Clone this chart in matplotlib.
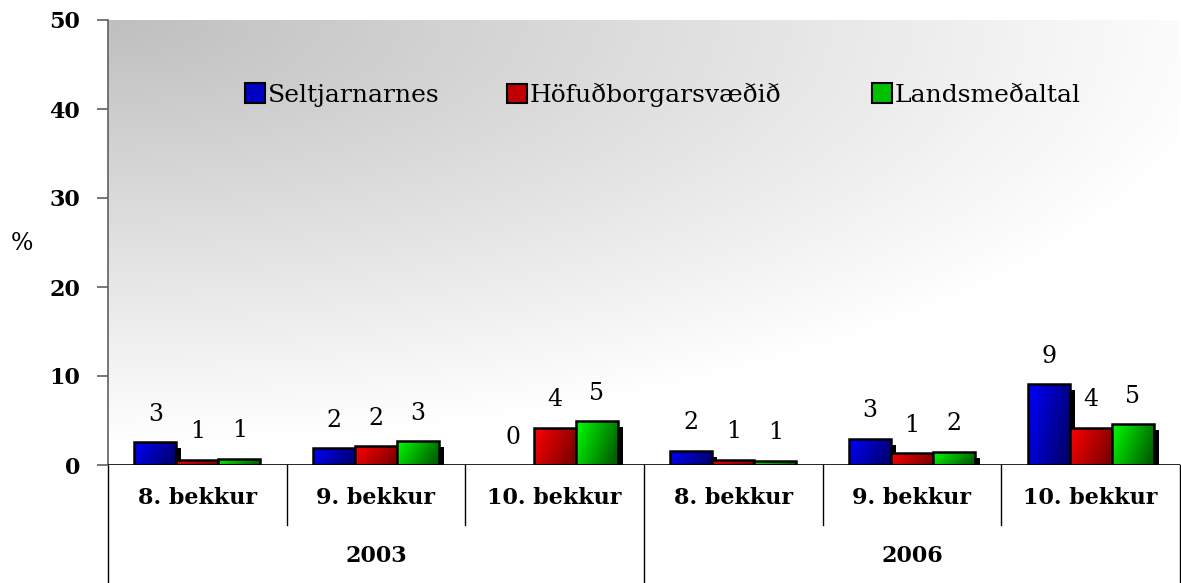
import numpy as np
import matplotlib
matplotlib.use("Agg")
import matplotlib.pyplot as plt
from matplotlib.patches import Patch
from matplotlib import patheffects as pe
from matplotlib.colors import LinearSegmentedColormap
import matplotlib.transforms as mtransforms

# ---- data ----
grades = ["8. bekkur", "9. bekkur", "10. bekkur", "8. bekkur", "9. bekkur", "10. bekkur"]
years = ["2003", "2006"]
series_names = ["Seltjarnarnes", "Höfuðborgarsvæðið", "Landsmeðaltal"]
seltjarnarnes = [2.6, 1.9, 0.0, 1.6, 2.95, 9.1]
hofudborg = [0.6, 2.1, 4.2, 0.6, 1.35, 4.2]
landsmedaltal = [0.7, 2.7, 4.9, 0.5, 1.5, 4.6]
labels_selt = ["3", "2", "0", "2", "3", "9"]
labels_hof = ["1", "2", "4", "1", "1", "4"]
labels_land = ["1", "3", "5", "1", "2", "5"]

series = [seltjarnarnes, hofudborg, landsmedaltal]
series_labels = [labels_selt, labels_hof, labels_land]
light = ["#0000ff", "#ff0000", "#00ff00"]
dark = ["#000070", "#800000", "#006000"]
mid = ["#0000c0", "#c00000", "#00c000"]

plt.rcParams['font.family'] = ['DejaVu Serif']

W, H = 1181, 583
fig = plt.figure(figsize=(W / 100, H / 100), dpi=100)
fig.patch.set_facecolor("white")
ax = fig.add_axes([108 / W, (H - 465) / H, (1180 - 108) / W, 445 / H])

# background gradient (from top-left grey to white)
nx, ny = 300, 150
u = np.linspace(0, 1, nx)[None, :]
v = np.linspace(0, 1, ny)[:, None]
t = np.clip(np.sqrt((u * 0.95) ** 2 + (v * 1.05) ** 2), 0, 1)
g = 0.75 + 0.25 * t ** 1.0
bg = np.dstack([g, g, g])
ax.imshow(bg, extent=[0, 1, 0, 1], origin="upper", transform=ax.transAxes,
          aspect="auto", zorder=0, interpolation="bilinear")

x = np.arange(len(grades))
bw = 0.235
offsets = [-bw, 0, bw]
shadow_off = (3.6, -4.3)

for i, vals in enumerate(series):
    zb = 2 + i * 0.1
    # shadow
    sh = ax.bar(x + offsets[i], vals, bw, color="black", linewidth=0, zorder=zb)
    for p in sh:
        p.set_path_effects([pe.SimplePatchShadow(offset=shadow_off, shadow_rgbFace="black", alpha=1.0)])
        p.set_facecolor("none")
    # gradient fill
    cmap = LinearSegmentedColormap.from_list("c%d" % i, [light[i], dark[i]])
    gx = np.linspace(0, 1, 64)[None, :]
    gy = np.linspace(0, 1, 32)[:, None]
    grad = np.clip(0.8 * gx + 0.3 * gy, 0, 1)
    edges = ax.bar(x + offsets[i], vals, bw, facecolor="none", edgecolor="black",
                   linewidth=1.8, zorder=zb + 0.02)
    for p in edges:
        if p.get_height() <= 0:
            p.set_visible(False)
            continue
        im = ax.imshow(grad, cmap=cmap, vmin=0, vmax=1, origin="upper",
                       extent=[p.get_x(), p.get_x() + p.get_width(), 0, p.get_height()],
                       aspect="auto", zorder=zb + 0.01, interpolation="bilinear")
        im.set_clip_path(p)
    for xi, vi, lab in zip(x + offsets[i], vals, series_labels[i]):
        ax.annotate(lab, (xi, vi), xytext=(0, 20), textcoords="offset points",
                    ha="center", va="center", fontsize=17, zorder=5)

ax.set_xlim(-0.5, 5.5)
ax.set_ylim(0, 50)

# axes styling
for s in ["top", "right", "bottom"]:
    ax.spines[s].set_visible(False)
ax.spines["left"].set_color("#606060")
ax.spines["left"].set_linewidth(1.2)
ax.axhline(0, color="black", linewidth=1.2, zorder=6)
ax.set_yticks([0, 10, 20, 30, 40, 50])
ax.set_yticklabels(["0", "10", "20", "30", "40", "50"], fontsize=16, fontweight="bold")
ax.tick_params(axis="y", length=8, width=1.2, color="#606060", pad=12)
ax.set_xticks([])

fig.text(22 / W, (H - 243) / H, "%", fontsize=17, ha="center", va="center")

# category axis (two levels)
tr = mtransforms.blended_transform_factory(ax.transData, ax.transAxes)
low1 = -60 / 445
low2 = -118 / 445
for b in np.arange(-0.5, 6.0, 1.0):
    y_end = low2 if b in (-0.5, 2.5, 5.5) else low1
    ax.plot([b, b], [0, y_end], color="black", linewidth=1.0, transform=tr, clip_on=False)
for xi, lab in zip(x, grades):
    ax.text(xi, -33 / 445, lab, transform=tr, ha="center", va="center", fontsize=16,
            fontweight="bold")
for k, yr in enumerate(years):
    ax.text(1 + 3 * k, -91 / 445, yr, transform=tr, ha="center", va="center", fontsize=16,
            fontweight="bold")

# legend as three separate entries
leg_x = [245, 507, 872]
for k in range(3):
    h = Patch(facecolor=mid[k], edgecolor="black", linewidth=1.5)
    lg = fig.legend([h], [series_names[k]], loc="center left",
                    bbox_to_anchor=(leg_x[k] / W, (H - 95) / H), frameon=False,
                    fontsize=18, borderpad=0, borderaxespad=0, handlelength=0.8,
                    handleheight=0.8, handletextpad=0.1)

fig.savefig("out.png", dpi=100)
